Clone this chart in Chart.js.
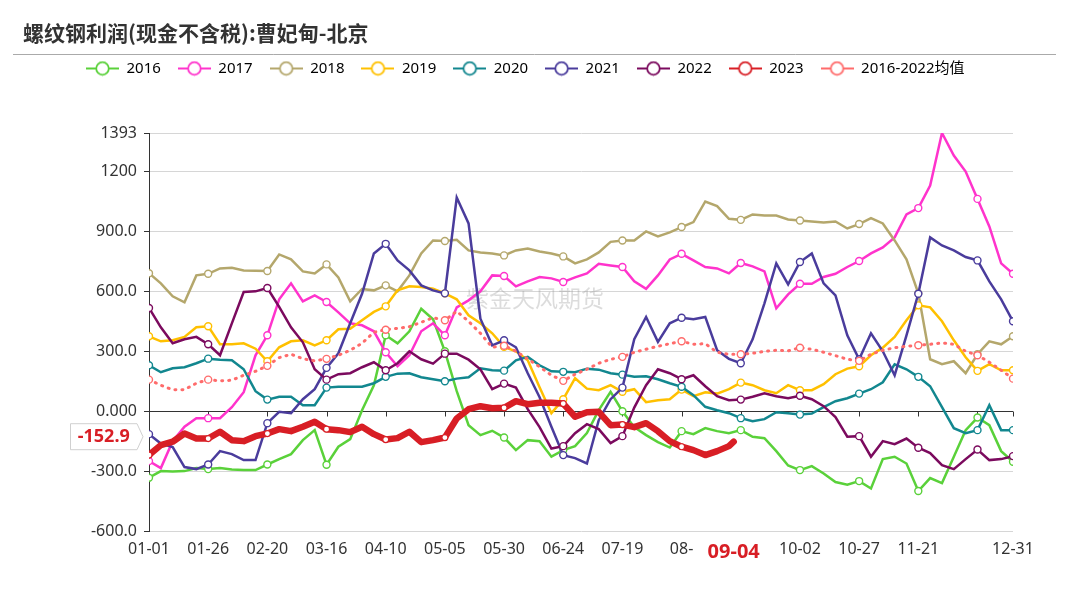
<!DOCTYPE html>
<html>
<head>
<meta charset="utf-8">
<script src="https://cdn.jsdelivr.net/npm/chart.js@4.4.0/dist/chart.umd.min.js"></script>
<style>
  html, body { margin: 0; padding: 0; background: #fff; }
</style>
</head>
<body>
<canvas id="myChart" width="1069" height="613"></canvas>
<script>
const chartTitle = '螺纹钢利润(现金不含税):曹妃甸-北京';
const watermarkText = '紫金天风期货';

// day of year on a leap-year calendar (0 = 01-01, 365 = 12-31), one reading every 5 days
const days = [0, 5, 10, 15, 20, 25, 30, 35, 40, 45, 50, 55, 60, 65, 70, 75, 80, 85, 90, 95,
  100, 105, 110, 115, 120, 125, 130, 135, 140, 145, 150, 155, 160, 165, 170, 175, 180, 185, 190, 195,
  200, 205, 210, 215, 220, 225, 230, 235, 240, 245, 250, 255, 260, 265, 270, 275, 280, 285, 290, 295,
  300, 305, 310, 315, 320, 325, 330, 335, 340, 345, 350, 355, 360, 365];

const xTickDays = [0, 25, 50, 75, 100, 125, 150, 175, 200, 225, 247, 275, 300, 325, 365];
const xTickLabels = ['01-01', '01-26', '02-20', '03-16', '04-10', '05-05', '05-30', '06-24', '07-19',
  '08-', '09-04', '10-02', '10-27', '11-21', '12-31'];
const yTickValues = [-600, -300, 0, 300, 600, 900, 1200, 1393];
const yTickLabels = ['-600.0', '-300.0', '0.000', '300.0', '600.0', '900.0', '1200', '1393'];

const seriesNames = ['2016', '2017', '2018', '2019', '2020', '2021', '2022', '2023', '2016-2022均值'];
const seriesColors = ['#5ad13a', '#ff33cc', '#b4a76c', '#ffc000', '#12878f', '#4a3c9c', '#7b0a5e', '#d81e25', '#ff6b6b'];

const y2016 = [-333, -300, -302, -300, -285, -290, -285, -292, -295, -295,
  -267, -240, -215, -145, -95, -268, -178, -140, 5, 130,
  380, 340, 400, 513, 460, 300, 100, -70, -120, -98,
  -132, -195, -145, -150, -228, -195, -175, -110, 5, 97,
  0, -80, -120, -155, -182, -100, -115, -85, -100, -110,
  -95, -128, -135, -200, -272, -295, -275, -312, -355, -368,
  -350, -387, -240, -228, -262, -400, -335, -360, -228, -95,
  -32, -70, -200, -253];

const y2017 = [-250, -285, -150, -78, -35, -35, -35, 20, 95, 280,
  380, 560, 640, 550, 580, 547, 495, 440, 430, 400,
  295, 225, 280, 400, 440, 380, 520, 555, 600, 680,
  677, 625, 650, 672, 665, 647, 670, 690, 738, 730,
  722, 650, 613, 680, 760, 788, 755, 722, 715, 690,
  742, 725, 700, 515, 585, 638, 638, 672, 688, 722,
  752, 790, 820, 870, 985, 1017, 1130, 1393, 1280, 1200,
  1063, 925, 740, 688];

const y2018 = [691, 640, 575, 545, 680, 688, 715, 718, 705, 703,
  702, 785, 760, 700, 690, 735, 670, 550, 612, 605,
  630, 600, 680, 790, 855, 852, 858, 805, 795, 790,
  780, 805, 815, 800, 790, 775, 740, 760, 795, 848,
  855, 855, 900, 875, 895, 922, 947, 1050, 1027, 963,
  958, 985, 980, 980, 960, 955, 950, 945, 950, 915,
  937, 967, 940, 855, 760, 590, 260, 235, 250, 190,
  285, 350, 335, 375];

const y2019 = [375, 350, 355, 372, 420, 425, 335, 335, 340, 313,
  250, 320, 350, 355, 330, 355, 410, 413, 455, 497,
  525, 605, 625, 622, 613, 590, 560, 480, 440, 390,
  322, 300, 255, 120, -10, 60, 165, 113, 105, 130,
  97, 110, 45, 55, 60, 108, 75, 95, 88, 110,
  143, 130, 105, 90, 130, 105, 105, 135, 185, 213,
  225, 280, 318, 372, 455, 530, 520, 450, 355, 270,
  202, 235, 205, 205];

const y2020 = [230, 195, 215, 220, 240, 263, 258, 255, 210, 100,
  58, 72, 72, 30, 30, 118, 122, 122, 122, 140,
  172, 188, 190, 170, 160, 150, 163, 170, 215, 205,
  203, 255, 272, 230, 200, 197, 195, 213, 208, 190,
  183, 172, 175, 160, 140, 122, 80, 22, 5, -10,
  -35, -50, -40, -5, -10, -17, -12, 20, 50, 65,
  88, 110, 145, 235, 210, 172, 125, 20, -85, -110,
  -95, 30, -95, -95];

const y2021 = [-115, -162, -180, -280, -290, -267, -200, -215, -245, -245,
  -60, -3, -10, 60, 110, 217, 290, 440, 588, 790,
  838, 755, 705, 630, 605, 590, 1070, 940, 463, 330,
  355, 320, 190, 70, -78, -220, -235, -262, -45, 60,
  118, 360, 472, 347, 440, 468, 460, 472, 305, 262,
  240, 360, 540, 740, 635, 747, 790, 640, 580, 380,
  260, 390, 300, 180, 380, 588, 870, 830, 805, 772,
  755, 650, 560, 450];

const y2022 = [517, 420, 340, 360, 372, 335, 280, 440, 597, 600,
  617, 522, 420, 345, 210, 158, 185, 190, 220, 245,
  205, 240, 300, 260, 238, 288, 288, 258, 210, 110,
  138, 118, 10, -80, -187, -175, -110, -65, -90, -160,
  -125, 18, 130, 210, 190, 160, 180, 125, 75, 55,
  58, 72, 90, 75, 65, 77, 60, 25, -30, -128,
  -125, -228, -150, -165, -137, -183, -210, -270, -290, -240,
  -192, -245, -240, -225];

// 2023 runs up to 09-04 (day 247)
const y2023 = [-220, -170, -153, -112, -137, -137, -103, -145, -150, -125,
  -112, -90, -100, -78, -53, -90, -95, -105, -78, -115,
  -142, -135, -103, -155, -145, -132, -37, 10, 25, 15,
  17, 50, 35, 42, 42, 38, -28, -5, -3, -70,
  -67, -80, -60, -100, -150, -178, -195, -220, -200, -175];
const lastDay2023 = 247;
const last2023 = -152.9;

const yAvg = [158, 130, 107, 108, 140, 158, 152, 155, 180, 200,
  227, 268, 285, 263, 252, 262, 280, 305, 340, 395,
  408, 415, 423, 445, 468, 455, 500, 450, 390, 320,
  328, 300, 262, 222, 180, 152, 185, 210, 240, 260,
  272, 295, 310, 325, 338, 350, 335, 338, 295, 285,
  285, 290, 300, 305, 302, 318, 310, 295, 278, 260,
  252, 285, 305, 318, 325, 330, 335, 342, 335, 300,
  280, 245, 205, 163];

const toPoints = (vals) => vals.map((v, i) => ({ x: days[i], y: v }));
const points2023 = toPoints(y2023).concat({ x: lastDay2023, y: last2023 });
const seriesData = [y2016, y2017, y2018, y2019, y2020, y2021, y2022].map(toPoints);
seriesData.push(points2023, toPoints(yAvg));

// hollow markers every 25 days, like the source chart
const isMarker = (ctx) => ctx.raw && (ctx.raw.x % 25 === 0 || ctx.raw.x === 365);

const datasets = seriesNames.map((name, i) => {
  const color = seriesColors[i];
  const ds = {
    label: name,
    data: seriesData[i],
    borderColor: color,
    backgroundColor: '#fff',
    borderWidth: 2.5,
    tension: 0,
    pointRadius: (ctx) => isMarker(ctx) ? 3.5 : 0,
    pointHoverRadius: 0,
    pointBorderWidth: 1.4,
    pointBackgroundColor: '#fff',
    pointBorderColor: color,
    order: 10 - i
  };
  if (name === '2023') {
    ds.borderWidth = 6.5;
    ds.borderJoinStyle = 'round';
    ds.borderCapStyle = 'round';
    ds.pointRadius = (ctx) => isMarker(ctx) ? 3 : 0;
    ds.pointBorderWidth = 1.2;
    ds.order = 0;
  }
  if (name === '2016-2022均值') {
    ds.borderWidth = 3;
    ds.borderDash = [1, 6];
    ds.borderCapStyle = 'round';
  }
  return ds;
});

// legend icon: short line with a hollow circle
function legendIcon(color) {
  const c = document.createElement('canvas');
  c.width = 33;
  c.height = 16;
  const g = c.getContext('2d');
  g.strokeStyle = color;
  g.lineWidth = 1.8;
  g.beginPath();
  g.moveTo(0, 8);
  g.lineTo(33, 8);
  g.stroke();
  g.beginPath();
  g.arc(16.5, 8, 6.3, 0, Math.PI * 2);
  g.fillStyle = '#fff';
  g.fill();
  g.stroke();
  return c;
}
const legendIcons = seriesColors.map(legendIcon);

// push the plot area down below the legend
const legendSpacing = {
  id: 'legendSpacing',
  beforeInit(chart) {
    const fit = chart.legend.fit;
    chart.legend.fit = function () {
      fit.call(this);
      this.height += 47;
    };
  }
};

const headerPlugin = {
  id: 'header',
  beforeDraw(chart) {
    const ctx = chart.ctx;
    ctx.save();
    ctx.fillStyle = '#fff';
    ctx.fillRect(0, 0, chart.width, chart.height);
    ctx.font = 'bold 21px "Noto Sans CJK SC", sans-serif';
    ctx.fillStyle = '#333';
    ctx.textBaseline = 'middle';
    ctx.fillText(chartTitle, 23, 33);
    ctx.strokeStyle = '#aaa';
    ctx.lineWidth = 1;
    ctx.beginPath();
    ctx.moveTo(13, 54.5);
    ctx.lineTo(1056, 54.5);
    ctx.stroke();
    ctx.restore();
  },
  beforeDatasetsDraw(chart) {
    const ctx = chart.ctx;
    const xs = chart.scales.x, ys = chart.scales.y;
    ctx.save();
    // watermark
    ctx.font = '23px "Noto Sans CJK SC", sans-serif';
    ctx.fillStyle = 'rgba(150,150,150,0.33)';
    ctx.textAlign = 'center';
    ctx.textBaseline = 'middle';
    ctx.fillText(watermarkText, 535, 298);
    // tick marks on the zero axis
    const y0 = Math.round(ys.getPixelForValue(0)) + 0.5;
    ctx.strokeStyle = '#333';
    ctx.lineWidth = 1;
    ctx.beginPath();
    for (let d = 0; d <= 365; d += 25) {
      const px = Math.round(xs.getPixelForValue(d)) + 0.5;
      ctx.moveTo(px, y0);
      ctx.lineTo(px, y0 + 5);
    }
    const pEnd = Math.round(xs.getPixelForValue(365)) + 0.5;
    ctx.moveTo(pEnd, y0);
    ctx.lineTo(pEnd, y0 + 5);
    ctx.stroke();
    ctx.restore();
  },
  afterDraw(chart) {
    // value label for the latest 2023 reading
    const ctx = chart.ctx;
    const yp = chart.scales.y.getPixelForValue(last2023) - 5;
    const left = 70.5, right = 137, tip = 143, h = 26;
    ctx.save();
    ctx.beginPath();
    ctx.moveTo(left, yp - h / 2);
    ctx.lineTo(right, yp - h / 2);
    ctx.lineTo(tip, yp);
    ctx.lineTo(right, yp + h / 2);
    ctx.lineTo(left, yp + h / 2);
    ctx.closePath();
    ctx.fillStyle = '#fff';
    ctx.fill();
    ctx.strokeStyle = '#d0d0d0';
    ctx.lineWidth = 1;
    ctx.stroke();
    ctx.font = 'bold 18px "Noto Sans", sans-serif';
    ctx.fillStyle = '#d81e25';
    ctx.textAlign = 'center';
    ctx.textBaseline = 'middle';
    ctx.fillText(last2023.toFixed(1), (left + right) / 2, yp);
    ctx.restore();
  }
};

Chart.defaults.font.family = '"Noto Sans", "Noto Sans CJK SC", sans-serif';
Chart.defaults.font.size = 16;
Chart.defaults.color = '#333';

const ctx = document.getElementById('myChart').getContext('2d');
new Chart(ctx, {
  type: 'line',
  data: { datasets: datasets },
  options: {
    responsive: false,
    animation: false,
    events: [],
    layout: { padding: { top: 44, left: 69, right: 56, bottom: 42 } },
    scales: {
      x: {
        type: 'linear',
        min: 0,
        max: 365,
        afterBuildTicks: (s) => { s.ticks = xTickDays.map(v => ({ value: v })); },
        afterFit: (s) => { s.height = 40; },
        grid: { display: false, drawTicks: false },
        border: { display: false },
        ticks: {
          autoSkip: false,
          maxRotation: 0,
          padding: 9,
          callback: (v) => xTickLabels[xTickDays.indexOf(v)],
          color: (c) => c.tick && c.tick.value === lastDay2023 ? '#d81e25' : '#333',
          font: (c) => c.tick && c.tick.value === lastDay2023 ? { size: 20, weight: 'bold' } : { size: 16 }
        }
      },
      y: {
        min: -600,
        max: 1393,
        afterBuildTicks: (s) => { s.ticks = yTickValues.map(v => ({ value: v })); },
        afterFit: (s) => { s.width = 80; },
        grid: {
          color: (c) => c.tick && c.tick.value === 0 ? '#333' : '#d6d6d6',
          tickColor: '#333',
          tickLength: 5
        },
        border: { display: true, color: '#333', width: 1 },
        ticks: {
          padding: 7,
          callback: (v) => yTickLabels[yTickValues.indexOf(v)]
        }
      }
    },
    plugins: {
      tooltip: { enabled: false },
      legend: {
        display: true,
        position: 'top',
        align: 'start',
        labels: {
          usePointStyle: true,
          pointStyleWidth: 33,
          padding: 17,
          color: '#444',
          font: { size: 15 },
          generateLabels: (chart) => chart.data.datasets.map((ds, i) => ({
            text: ds.label,
            pointStyle: legendIcons[i],
            fillStyle: '#fff',
            strokeStyle: ds.borderColor,
            lineWidth: 0,
            hidden: false,
            datasetIndex: i
          }))
        }
      }
    }
  },
  plugins: [legendSpacing, headerPlugin]
});
</script>
</body>
</html>
